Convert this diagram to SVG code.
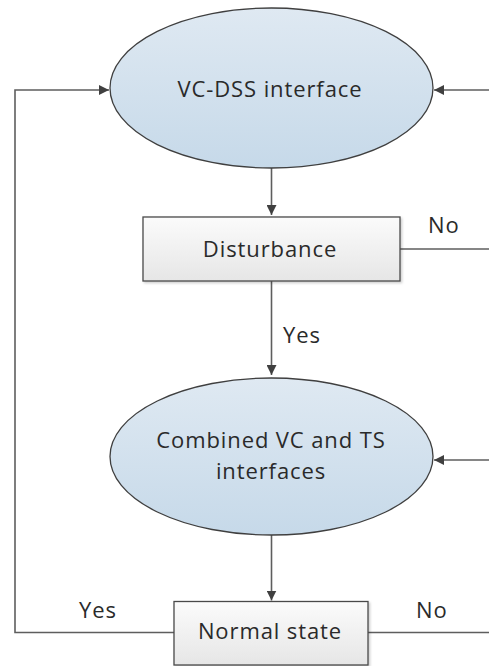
<svg xmlns="http://www.w3.org/2000/svg" width="489" height="666" viewBox="0 0 489 666">
  <defs>
    <linearGradient id="gBlue" x1="0" y1="0" x2="0" y2="1">
      <stop offset="0" stop-color="#dfe9f2"/>
      <stop offset="1" stop-color="#c6d9e9"/>
    </linearGradient>
    <linearGradient id="gGray" x1="0" y1="0" x2="0" y2="1">
      <stop offset="0" stop-color="#fbfbfb"/>
      <stop offset="1" stop-color="#e6e6e6"/>
    </linearGradient>
    <filter id="sh" x="-10%" y="-10%" width="130%" height="130%">
      <feDropShadow dx="1.5" dy="1.5" stdDeviation="1" flood-color="#000" flood-opacity="0.2"/>
    </filter>
    <marker id="arr" viewBox="0 0 10 10" refX="10" refY="5" markerWidth="10" markerHeight="10" markerUnits="userSpaceOnUse" orient="auto">
      <path d="M0,0 L10,5 L0,10 z" fill="#404040"/>
    </marker>
  </defs>
  <style>
    .ell { fill: url(#gBlue); stroke: #3f3f3f; stroke-width: 1.3; }
    .box { fill: url(#gGray); stroke: #4a4a4a; stroke-width: 1.3; }
    .lbl { font-family: "Open Sans", "Liberation Sans", sans-serif; font-size: 22px; letter-spacing: 0.9px; fill: #2a2a2a; text-anchor: middle; }
    .edge { font-family: "Open Sans", "Liberation Sans", sans-serif; font-size: 22px; letter-spacing: 0.9px; fill: #2a2a2a; }
    .c { fill: none; stroke: #5e5e5e; stroke-width: 1.6; }
  </style>
  <rect width="489" height="666" fill="#ffffff"/>

  <g id="connectors">
    <path class="c" d="M271.5,168 V215" marker-end="url(#arr)"/>
    <path class="c" d="M271.5,281 V375" marker-end="url(#arr)"/>
    <path class="c" d="M271.5,535 V600.5" marker-end="url(#arr)"/>
    <path class="c" d="M400,249 H489"/>
    <path class="c" d="M489,90 H434" marker-end="url(#arr)"/>
    <path class="c" d="M489,460 H434" marker-end="url(#arr)"/>
    <path class="c" d="M174,632.5 H15 V90 H109" marker-end="url(#arr)"/>
    <path class="c" d="M368,632.5 H489"/>
    <text class="edge" x="428" y="233">No</text>
    <text class="edge" x="283" y="343">Yes</text>
    <text class="edge" x="79" y="618">Yes</text>
    <text class="edge" x="416" y="618">No</text>
  </g>

  <g id="node-vcdss">
    <ellipse class="ell" cx="271.5" cy="88" rx="161.5" ry="80"/>
    <text class="lbl" x="270" y="97">VC-DSS interface</text>
  </g>

  <g id="node-disturbance">
    <rect class="box" x="143" y="217" width="257" height="64" filter="url(#sh)"/>
    <text class="lbl" x="270" y="257">Disturbance</text>
  </g>

  <g id="node-combined">
    <ellipse class="ell" cx="271.5" cy="456.5" rx="161.5" ry="78.5"/>
    <text class="lbl" x="271" y="448">Combined VC and TS</text>
    <text class="lbl" x="271" y="479">interfaces</text>
  </g>

  <g id="node-normal">
    <rect class="box" x="174" y="601.5" width="194" height="63.5" filter="url(#sh)"/>
    <text class="lbl" x="270" y="639">Normal state</text>
  </g>
</svg>
